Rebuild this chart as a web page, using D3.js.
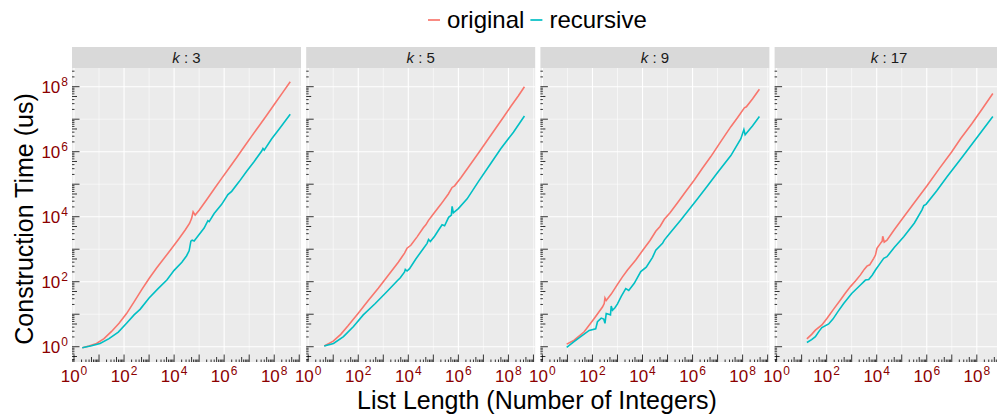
<!DOCTYPE html>
<html>
<head>
<meta charset="utf-8">
<script src="https://cdn.jsdelivr.net/npm/d3@7"></script>
<style>
  body { margin: 0; background: #fff; }
  text { font-family: "Liberation Sans", Arial, sans-serif; }
</style>
</head>
<body>
<svg width="997" height="414"></svg>
<script>
const kValues = [3, 5, 9, 17];
const seriesNames = ["original", "recursive"];
const seriesColors = ["#F8766D", "#00BFC4"];
const tickPowers = [0, 2, 4, 6, 8];

// points are [log10(list length), log10(construction time in us)]
const original_k3 = [[0.33,-0.03],[0.6,0.02],[0.9,0.1],[1.2,0.25],[1.5,0.47],[1.8,0.72],[2.1,1.02],[2.4,1.38],[2.7,1.75],[3.0,2.1],[3.3,2.42],[3.6,2.72],[3.9,3.02],[4.2,3.33],[4.45,3.6],[4.62,3.8],[4.7,3.95],[4.76,4.15],[4.84,4.05],[5.0,4.2],[5.3,4.52],[5.6,4.85],[5.9,5.18],[6.2,5.5],[6.5,5.82],[6.8,6.15],[7.1,6.48],[7.4,6.8],[7.7,7.12],[8.0,7.45],[8.3,7.78],[8.64,8.15]];
const recursive_k3 = [[0.33,-0.03],[0.7,0.03],[1.04,0.1],[1.4,0.25],[1.77,0.45],[2.1,0.72],[2.4,0.98],[2.64,1.15],[3.0,1.5],[3.35,1.78],[3.71,2.05],[4.0,2.35],[4.31,2.6],[4.5,2.8],[4.6,2.95],[4.67,3.25],[4.72,3.28],[4.8,3.25],[5.0,3.45],[5.2,3.65],[5.35,3.88],[5.4,3.85],[5.6,4.1],[5.9,4.38],[6.15,4.68],[6.3,4.78],[6.6,5.08],[6.9,5.4],[7.2,5.7],[7.5,6.02],[7.55,6.1],[7.6,6.05],[7.9,6.4],[8.2,6.7],[8.64,7.15]];
const original_k5 = [[0.64,0.02],[1.0,0.17],[1.3,0.38],[1.6,0.65],[2.0,1.03],[2.4,1.42],[2.8,1.8],[3.2,2.2],[3.6,2.6],[3.85,2.88],[3.95,3.03],[4.1,3.12],[4.35,3.38],[4.6,3.66],[4.7,3.75],[4.8,3.88],[5.0,4.08],[5.3,4.38],[5.6,4.7],[5.75,4.9],[5.85,4.95],[6.1,5.2],[6.4,5.52],[6.84,6.0],[7.2,6.4],[7.5,6.73],[7.8,7.06],[8.1,7.4],[8.4,7.72],[8.64,8.0]];
const recursive_k5 = [[0.64,0.02],[1.01,0.1],[1.41,0.31],[1.81,0.62],[2.2,0.98],[2.68,1.33],[3.15,1.7],[3.55,2.02],[3.68,2.12],[3.85,2.3],[3.88,2.38],[3.95,2.33],[4.05,2.4],[4.3,2.7],[4.61,3.03],[4.75,3.18],[4.81,3.3],[4.88,3.24],[5.05,3.4],[5.21,3.59],[5.35,3.75],[5.45,3.72],[5.61,3.98],[5.72,4.05],[5.75,4.32],[5.8,4.12],[6.0,4.25],[6.35,4.55],[6.8,5.08],[7.28,5.62],[7.7,6.1],[8.2,6.6],[8.64,7.1]];
const original_k9 = [[0.97,0.08],[1.27,0.2],[1.67,0.46],[2.07,0.87],[2.4,1.22],[2.47,1.33],[2.5,1.5],[2.55,1.42],[2.75,1.62],[3.0,1.92],[3.2,2.15],[3.4,2.36],[3.73,2.67],[4.07,3.03],[4.3,3.27],[4.53,3.55],[4.7,3.7],[4.87,3.92],[5.1,4.12],[5.4,4.43],[5.75,4.8],[6.07,5.13],[6.4,5.5],[6.73,5.85],[7.1,6.28],[7.53,6.77],[7.8,7.05],[8.07,7.35],[8.15,7.38],[8.4,7.63],[8.67,7.92]];
const recursive_k9 = [[0.97,-0.02],[1.25,0.15],[1.53,0.31],[1.87,0.5],[2.13,0.55],[2.2,0.77],[2.35,0.88],[2.45,0.85],[2.5,0.72],[2.55,1.02],[2.65,1.0],[2.72,0.98],[2.75,1.25],[2.8,1.12],[2.9,1.2],[3.0,1.32],[3.15,1.55],[3.33,1.79],[3.45,1.73],[3.67,1.95],[3.93,2.31],[4.15,2.45],[4.4,2.75],[4.53,2.97],[4.8,3.18],[4.87,3.28],[5.1,3.5],[5.53,3.9],[6.2,4.55],[6.6,4.95],[7.0,5.36],[7.53,5.88],[7.93,6.4],[8.05,6.68],[8.1,6.52],[8.4,6.8],[8.67,7.08]];
const original_k17 = [[1.21,0.24],[1.4,0.38],[1.55,0.51],[1.81,0.67],[2.01,0.87],[2.3,1.18],[2.55,1.44],[2.75,1.65],[2.95,1.85],[3.15,2.02],[3.35,2.21],[3.5,2.38],[3.61,2.48],[3.72,2.52],[3.88,2.72],[3.95,2.82],[4.01,3.03],[4.15,3.18],[4.22,3.25],[4.24,3.4],[4.3,3.22],[4.41,3.28],[4.7,3.6],[5.01,3.92],[5.5,4.43],[6.01,4.95],[6.5,5.48],[7.0,6.0],[7.35,6.4],[7.8,6.86],[8.2,7.3],[8.64,7.79]];
const recursive_k17 = [[1.21,0.13],[1.4,0.22],[1.55,0.31],[1.7,0.48],[1.81,0.59],[2.08,0.7],[2.25,0.85],[2.45,1.08],[2.68,1.33],[3.0,1.64],[3.35,1.9],[3.55,2.05],[3.68,2.07],[3.82,2.2],[3.95,2.36],[4.15,2.58],[4.28,2.72],[4.41,2.77],[4.7,3.05],[5.08,3.38],[5.5,3.8],[5.81,4.21],[5.88,4.34],[5.97,4.38],[6.4,4.8],[6.81,5.23],[7.35,5.77],[8.0,6.43],[8.64,7.08]];

const panels = [
  [original_k3, recursive_k3],
  [original_k5, recursive_k5],
  [original_k9, recursive_k9],
  [original_k17, recursive_k17],
];

const svg = d3.select("svg");
const panelW = 229, panelH = 294, panelTop = 68, stripH = 21, step = 234.2, left0 = 72;

const x = d3.scaleLog().domain([10 ** -0.08, 10 ** 9.07]).range([0, panelW]);
const y = d3.scaleLog().domain([10 ** -0.47, 10 ** 8.575]).range([panelH, 0]);

const line = d3.line()
  .x(d => x(10 ** d[0]))
  .y(d => y(10 ** d[1]));

// "10" with the power as a raised exponent
function sup(sel, p) {
  sel.append("tspan").text("10");
  sel.append("tspan").attr("dx", 1).attr("dy", -7).attr("font-size", 12).text(p);
}

panels.forEach((series, i) => {
  const g = svg.append("g").attr("transform", `translate(${left0 + i * step},${panelTop})`);

  g.append("rect").attr("width", panelW).attr("height", panelH).attr("fill", "#EBEBEB");

  // grid: even powers major, odd powers minor
  for (let p = -1; p <= 9; p++) {
    const v = 10 ** p;
    const w = p % 2 === 0 ? 1.1 : 0.55;
    if (v >= x.domain()[0] && v <= x.domain()[1])
      g.append("line").attr("x1", x(v)).attr("x2", x(v)).attr("y1", 0).attr("y2", panelH)
        .attr("stroke", "#fff").attr("stroke-width", w);
    if (v >= y.domain()[0] && v <= y.domain()[1])
      g.append("line").attr("y1", y(v)).attr("y2", y(v)).attr("x1", 0).attr("x2", panelW)
        .attr("stroke", "#fff").attr("stroke-width", w);
  }

  // log ticks on left and bottom
  for (let p = -1; p <= 9; p++) {
    for (let m = 1; m <= 9; m++) {
      const v = m * 10 ** p;
      const len = m === 1 ? 7.5 : m === 5 ? 5 : 2.5;
      if (v >= y.domain()[0] && v <= y.domain()[1])
        g.append("line").attr("x1", 0).attr("x2", len).attr("y1", y(v)).attr("y2", y(v))
          .attr("stroke", "#000").attr("stroke-width", 0.8);
      if (v >= x.domain()[0] && v <= x.domain()[1])
        g.append("line").attr("x1", x(v)).attr("x2", x(v)).attr("y1", panelH).attr("y2", panelH - len)
          .attr("stroke", "#000").attr("stroke-width", 0.8);
    }
  }

  series.forEach((pts, j) => {
    g.append("path").datum(pts).attr("d", line)
      .attr("fill", "none").attr("stroke", seriesColors[j]).attr("stroke-width", 1.6);
  });

  // strip
  g.append("rect").attr("y", -stripH).attr("width", panelW).attr("height", stripH).attr("fill", "#D9D9D9");
  const st = g.append("text").attr("x", panelW / 2).attr("y", -5.5).attr("text-anchor", "middle")
    .attr("font-size", 15).attr("fill", "#1A1A1A");
  st.append("tspan").attr("font-style", "italic").text("k");
  st.append("tspan").text(" : " + kValues[i]);

  // x tick labels
  tickPowers.forEach(p => {
    const t = g.append("text").attr("x", x(10 ** p)).attr("y", panelH + 20)
      .attr("text-anchor", "middle").attr("font-size", 17).attr("fill", "#8B0000");
    sup(t, p);
  });

  if (i === 0) {
    tickPowers.forEach(p => {
      const t = g.append("text").attr("x", -4).attr("y", y(10 ** p) + 6)
        .attr("text-anchor", "end").attr("font-size", 17).attr("fill", "#8B0000");
      sup(t, p);
    });
  }
});

// axis titles
svg.append("text").attr("x", 537).attr("y", 409).attr("text-anchor", "middle")
  .attr("font-size", 25).attr("fill", "#000").text("List Length (Number of Integers)");
svg.append("text").attr("transform", "translate(33,219) rotate(-90)").attr("text-anchor", "middle")
  .attr("font-size", 25).attr("fill", "#000").text("Construction Time (us)");

// legend
const legend = svg.append("g");
let lx = 428;
seriesNames.forEach((name, j) => {
  legend.append("line").attr("x1", lx).attr("x2", lx + 12).attr("y1", 20).attr("y2", 20)
    .attr("stroke", seriesColors[j]).attr("stroke-width", 1.7);
  const t = legend.append("text").attr("x", lx + 19).attr("y", 28).attr("font-size", 24)
    .attr("fill", "#000").text(name);
  lx += 19 + t.node().getComputedTextLength() + 6;
});
</script>
</body>
</html>
